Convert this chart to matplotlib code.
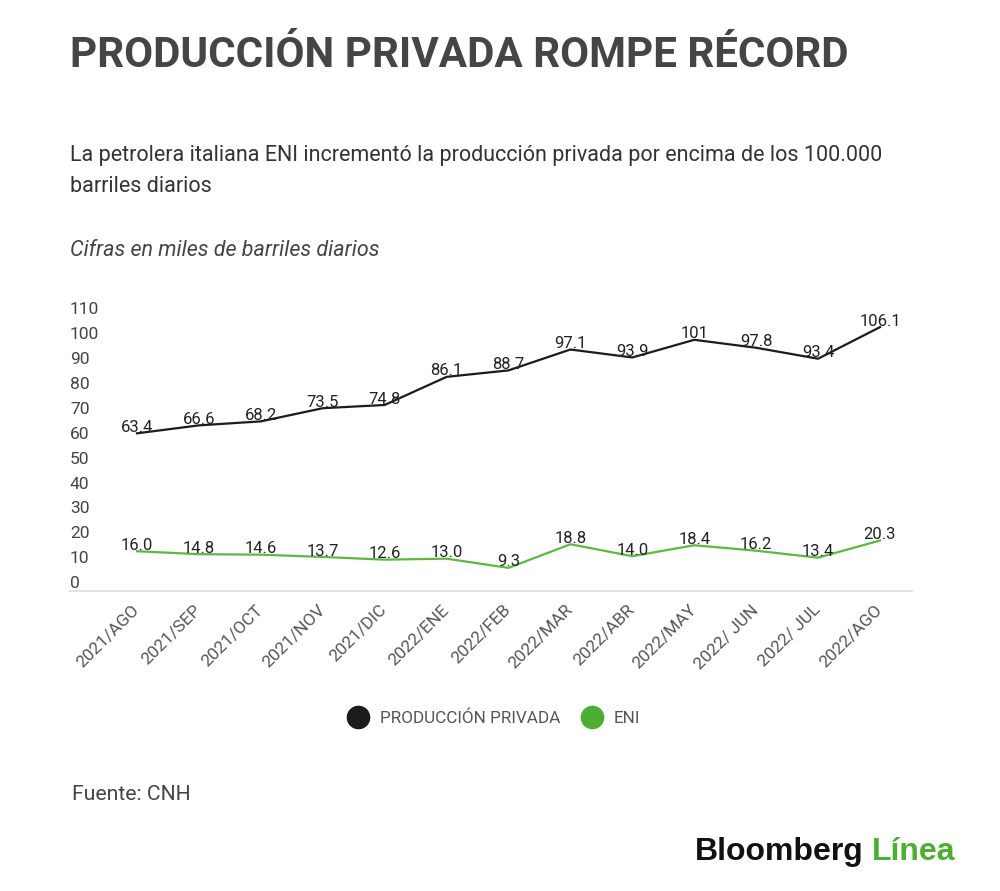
import matplotlib.pyplot as plt
from matplotlib.lines import Line2D
import numpy as np

plt.rcParams['font.family'] = ['Roboto', 'DejaVu Sans']

# datos
meses = ['2021/AGO', '2021/SEP', '2021/OCT', '2021/NOV', '2021/DIC', '2022/ENE',
         '2022/FEB', '2022/MAR', '2022/ABR', '2022/MAY', '2022/ JUN', '2022/ JUL',
         '2022/AGO']
privada = [63.4, 66.6, 68.2, 73.5, 74.8, 86.1, 88.7, 97.1, 93.9, 101, 97.8, 93.4, 106.1]
eni = [16.0, 14.8, 14.6, 13.7, 12.6, 13.0, 9.3, 18.8, 14.0, 18.4, 16.2, 13.4, 20.3]
etiq_privada = ['63.4', '66.6', '68.2', '73.5', '74.8', '86.1', '88.7', '97.1', '93.9',
                '101', '97.8', '93.4', '106.1']
etiq_eni = ['16.0', '14.8', '14.6', '13.7', '12.6', '13.0', '9.3', '18.8', '14.0',
            '18.4', '16.2', '13.4', '20.3']
y_ticks = [0, 10, 20, 30, 40, 50, 60, 70, 80, 90, 100, 110]

NEGRO = '#1c1c1c'
VERDE = '#5cb845'
VERDE_LOGO = '#4caf32'

fig = plt.figure(figsize=(10, 8.91), dpi=100)
fig.patch.set_facecolor('white')

# titulo y textos
fig.text(0.07, 0.938, 'PRODUCCIÓN PRIVADA ROMPE RÉCORD', fontsize=30.3, fontweight='bold',
         color='#454545', va='center', ha='left')
fig.text(0.07, 0.825, 'La petrolera italiana ENI incrementó la producción privada por encima de los 100.000',
         fontsize=15.5, color='#333333', va='center', ha='left')
fig.text(0.07, 0.791, 'barriles diarios', fontsize=15.5, color='#333333', va='center', ha='left')
fig.text(0.07, 0.719, 'Cifras en miles de barriles diarios', fontsize=15.5, style='italic',
         color='#444444', va='center', ha='left')

ax = fig.add_axes([0.07, 0.3367, 0.842, 0.321])
x = np.arange(len(meses))

ax.plot(x, privada, color=NEGRO, lw=1.6)
ax.plot(x, eni, color=VERDE, lw=1.6)

for xi, v, t in zip(x, privada, etiq_privada):
    ax.annotate(t, (xi, v), xytext=(0, 1), textcoords='offset points', ha='center',
                va='baseline', fontsize=12, color='#222222')
for xi, v, t in zip(x, eni, etiq_eni):
    ax.annotate(t, (xi, v), xytext=(0, 1), textcoords='offset points', ha='center',
                va='baseline', fontsize=12, color='#222222')

ax.set_xlim(-1.082, 12.517)
ax.set_ylim(0, 115)

ax.set_yticks(y_ticks)
ax.set_yticklabels([str(v) for v in y_ticks])
ax.tick_params(axis='y', length=0, pad=0, labelsize=12.5, labelcolor='#444444')
for lbl in ax.get_yticklabels():
    lbl.set_horizontalalignment('left')
    lbl.set_verticalalignment('bottom')

ax.set_xticks(x)
ax.set_xticklabels(meses, rotation=45, ha='right', va='center', rotation_mode='anchor')
ax.tick_params(axis='x', length=0, pad=12, labelsize=12.5, labelcolor='#555555')

for s in ['top', 'right', 'left']:
    ax.spines[s].set_visible(False)
ax.spines['bottom'].set_color('#dddddd')
ax.spines['bottom'].set_linewidth(1.2)

# leyenda
handles = [Line2D([], [], marker='o', ls='', markersize=16, color=NEGRO),
           Line2D([], [], marker='o', ls='', markersize=16, color=VERDE_LOGO)]
fig.legend(handles, ['PRODUCCIÓN PRIVADA', 'ENI'], loc='center', bbox_to_anchor=(0.494, 0.194),
           ncol=2, frameon=False, fontsize=12.3, labelcolor='#555555', handletextpad=0.7,
           columnspacing=1.2, handlelength=1.2)

fig.text(0.072, 0.108, 'Fuente: CNH', fontsize=15.2, color='#444444', va='center', ha='left')

# logo
t1 = fig.text(0.695, 0.035, 'Bloomberg', fontsize=23, fontweight='bold', color='#111111',
              family='Liberation Sans', ha='left', va='baseline')
ax.annotate('Línea', xy=(1, 0), xycoords=t1, xytext=(6, 0), textcoords='offset points',
            fontsize=23, fontweight='bold', color=VERDE_LOGO, family='Liberation Sans',
            ha='left', va='bottom', annotation_clip=False)

fig.savefig('out.png', dpi=100)
